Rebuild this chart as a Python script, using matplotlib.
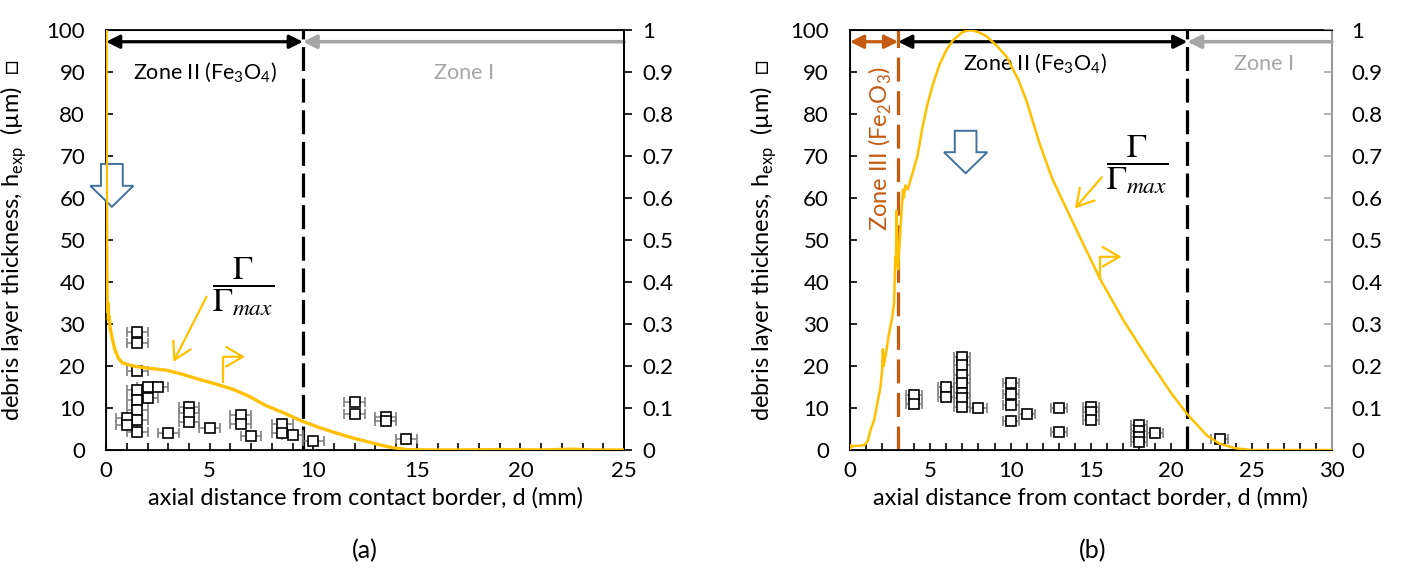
import matplotlib
matplotlib.use("Agg")
import matplotlib.pyplot as plt
from matplotlib.ticker import MultipleLocator, FuncFormatter
from matplotlib.patches import FancyArrow

plt.rcParams['font.family'] = ['Lato', 'DejaVu Sans']
plt.rcParams['mathtext.fontset'] = 'custom'
plt.rcParams['mathtext.rm'] = 'Lato'

# ---------------- data ----------------
# panel (a): normalized curve Gamma/Gamma_max
d_a = [0, 0.01, 0.03, 0.05, 0.07, 0.09, 0.11, 0.14, 0.2, 0.3, 0.43, 0.6, 0.8, 1.3,
       2.0, 2.9, 3.7, 4.5, 5.3, 6.1, 6.9, 7.7, 8.5, 9.4, 10.2, 11.0, 11.8, 12.6,
       13.3, 13.9, 14.5, 15.5, 17, 19, 21, 22.5, 23.5, 25]
g_a = [1.0, 0.75, 0.5, 0.36, 0.33, 0.35, 0.31, 0.32, 0.29, 0.265, 0.238, 0.218,
       0.207, 0.2, 0.195, 0.19, 0.18, 0.168, 0.157, 0.145, 0.128, 0.106, 0.09,
       0.07, 0.055, 0.042, 0.03, 0.02, 0.011, 0.005, 0.001, 0.0, 0.0, 0.001, 0.0,
       0.002, 0.0, 0.0]
# panel (a): measured debris thickness (um)
x_a = [1.5, 1.5, 1.5, 1.5, 1.5, 1.5, 1.5, 1.5, 1.0, 1.0, 2.0, 2.0, 2.5, 3.0, 4.0,
       4.0, 4.0, 5.0, 6.5, 6.5, 7.0, 8.5, 8.5, 9.0, 10.0, 12.0, 12.0, 13.5, 13.5, 14.5]
h_a = [28.2, 25.5, 18.8, 14.3, 11.9, 9.5, 7.1, 4.4, 7.5, 6.0, 15.1, 12.3, 15.1, 4.0,
       10.3, 8.7, 6.7, 5.2, 8.3, 6.3, 3.3, 6.3, 4.1, 3.6, 2.1, 11.5, 8.5, 7.8, 7.0, 2.5]

# panel (b): normalized curve
d_b = [0, 0.05, 0.15, 0.3, 0.6, 0.9, 1.1, 1.3, 1.5, 1.7, 1.9, 2.0, 2.05, 2.1, 2.2,
       2.4, 2.6, 2.75, 2.82, 2.86, 2.9, 2.95, 3.0, 3.1, 3.2, 3.3, 3.35, 3.45, 3.6,
       3.9, 4.2, 4.5, 4.8, 5.2, 5.6, 6.0, 6.4, 7.0, 7.5, 8.0, 8.5, 9.2, 9.75, 10.5,
       11.0, 11.8, 12.6, 13.9, 14.7, 15.6, 17.0, 18.5, 20.0, 21.0, 22.2, 23.0,
       24.0, 25.0, 27.0, 30.0]
g_b = [0.0, 0.012, 0.008, 0.01, 0.01, 0.012, 0.02, 0.05, 0.07, 0.11, 0.15, 0.19,
       0.24, 0.2, 0.22, 0.27, 0.31, 0.35, 0.46, 0.44, 0.57, 0.45, 0.43, 0.5, 0.56,
       0.62, 0.6, 0.63, 0.62, 0.66, 0.7, 0.765, 0.82, 0.875, 0.92, 0.952, 0.975,
       0.995, 1.0, 0.995, 0.985, 0.96, 0.936, 0.88, 0.83, 0.73, 0.645, 0.54, 0.476,
       0.405, 0.31, 0.22, 0.135, 0.085, 0.035, 0.015, 0.004, 0.0, 0.0, 0.0]
x_b = [4, 4, 6, 6, 7, 7, 7, 7, 7, 7, 7, 8, 10, 10, 10, 10, 11, 13, 13, 15, 15, 15,
       18, 18, 18, 18, 19, 23]
h_b = [13.0, 11.0, 15.1, 12.5, 22.2, 20.2, 17.9, 15.9, 13.5, 12.3, 10.3, 9.9, 15.9,
       13.3, 10.7, 6.9, 8.6, 10.1, 4.3, 10.3, 9.0, 7.1, 6.0, 4.6, 3.0, 1.8, 4.1, 2.5]
x_err = 0.5

yticks_left = [0, 10, 20, 30, 40, 50, 60, 70, 80, 90, 100]
yticks_right = [0, 0.1, 0.2, 0.3, 0.4, 0.5, 0.6, 0.7, 0.8, 0.9, 1.0]
zone_a = [9.5]          # Zone II / Zone I border (a)
zone_b = [3.0, 21.0]    # Zone III/II and II/I borders (b)

GOLD = '#ffc000'
ORANGE = '#c55a11'
GRAY = '#a6a6a6'
BLUE = '#41719c'
FS = 15

fig = plt.figure(figsize=(14.03, 5.81), dpi=100)
ax_a = fig.add_axes([0.0756, 0.2255, 0.3692, 0.7229])
ax_b = fig.add_axes([0.6058, 0.2255, 0.3436, 0.7229])

ylabel = 'debris layer thickness, h$_\\mathregular{exp}$  (µm)  □'
xlabel = 'axial distance from contact border, d (mm)'


def base(ax, xmax, right_color, right_dir, right_pad):
    ax.set_xlim(0, xmax)
    ax.set_ylim(0, 100)
    ax.set_yticks(yticks_left)
    ax.xaxis.set_major_locator(MultipleLocator(5))
    ax.xaxis.set_minor_locator(MultipleLocator(1))
    ax.tick_params(axis='x', which='both', direction='in', length=5, width=1.2,
                   labelsize=FS + 1, pad=8)
    ax.tick_params(axis='y', direction='in', length=5, width=1.2, labelsize=FS + 1, pad=15)
    for s in ax.spines.values():
        s.set_linewidth(1.3)
    ax.set_xlabel(xlabel, fontsize=17, labelpad=4)
    ax.set_ylabel(ylabel, fontsize=17)
    ax.yaxis.set_label_coords(-0.148, 0.5)
    tw = ax.twinx()
    tw.set_ylim(0, 1)
    tw.set_yticks(yticks_right)
    tw.yaxis.set_major_formatter(FuncFormatter(lambda v, p: '%g' % v))
    tw.tick_params(axis='y', direction=right_dir, length=6, width=1.2, labelsize=FS + 1,
                   pad=right_pad, colors=right_color, labelcolor='black')
    tw.spines['right'].set_color(right_color)
    tw.spines['right'].set_linewidth(1.3)
    return tw


tw_a = base(ax_a, 25, 'black', 'out', 7)
tw_b = base(ax_b, 30, GRAY, 'in', 14)

# scatter with error bars
for ax, xs, hs in ((ax_a, x_a, h_a), (ax_b, x_b, h_b)):
    ax.errorbar(xs, hs, xerr=x_err, fmt='s', mfc='white', mec='black', ms=7.6,
                mew=1.2, ecolor='#7f7f7f', elinewidth=1.1, capsize=3.5,
                capthick=1.1, zorder=3)

# curves
tw_a.plot(d_a, g_a, color=GOLD, lw=2.4, zorder=4)
tw_b.plot(d_b, g_b, color=GOLD, lw=1.8, zorder=4)

# zone borders
ax_a.axvline(zone_a[0], color='black', lw=2.3, dashes=(7.5, 2.4), zorder=2)
ax_b.axvline(zone_b[0], color=ORANGE, lw=2.3, dashes=(7.5, 3.0), zorder=2)
ax_b.axvline(zone_b[1], color='black', lw=2.3, dashes=(7.5, 2.4), zorder=2)

ya = 97.2
def arr(ax, x0, x1, color, style, lw):
    ax.annotate('', xy=(x1, ya), xytext=(x0, ya),
                arrowprops=dict(arrowstyle=style, color=color, lw=lw,
                                shrinkA=0, shrinkB=0, mutation_scale=20))

arr(ax_a, 0, zone_a[0], 'black', '<|-|>', 2.3)
arr(ax_a, 25, zone_a[0], GRAY, '-|>', 2.6)
arr(ax_b, 0, zone_b[0], ORANGE, '<|-|>', 2.3)
arr(ax_b, zone_b[0], zone_b[1], 'black', '<|-|>', 2.3)
arr(ax_b, 30, zone_b[1], GRAY, '-|>', 2.6)

zone2 = 'Zone II (Fe$_\\mathregular{3}$O$_\\mathregular{4}$)'
ax_a.text(4.78, 89.8, zone2, fontsize=FS + 0.5, ha='center', va='center')
ax_a.text(17.3, 89.8, 'Zone I', fontsize=FS + 0.5, ha='center', va='center', color=GRAY)
ax_b.text(11.5, 91.9, zone2, fontsize=FS + 0.5, ha='center', va='center')
ax_b.text(25.8, 91.9, 'Zone I', fontsize=FS + 0.5, ha='center', va='center', color=GRAY)
ax_b.text(1.9, 71.8, 'Zone III (Fe$_\\mathregular{2}$O$_\\mathregular{3}$)', fontsize=FS + 2,
          ha='center', va='center', rotation=90, color=ORANGE)

# hollow arrows
ax_a.add_patch(FancyArrow(0.28, 68.1, 0, -10.2, width=1.05, head_width=2.08,
                          head_length=5.0, length_includes_head=True, fc='white',
                          ec=BLUE, lw=1.4, zorder=5, clip_on=False))
ax_b.add_patch(FancyArrow(7.2, 76.0, 0, -10.1, width=1.35, head_width=2.7,
                          head_length=5.0, length_includes_head=True, fc='white',
                          ec=BLUE, lw=1.4, zorder=5, clip_on=False))

# Gamma / Gamma_max labels
frac = r'$\dfrac{\Gamma}{\Gamma_{max}}$'
ax_a.text(6.61, 39.0, frac, fontsize=24, ha='center', va='center', math_fontfamily='stix')
ax_b.text(17.86, 68.0, frac, fontsize=24, ha='center', va='center', math_fontfamily='stix')

def pointer(ax, x0, y0, x1, y1):
    ax.annotate('', xy=(x1, y1), xytext=(x0, y0),
                arrowprops=dict(arrowstyle='->,head_length=0.6,head_width=0.35',
                                color=GOLD, lw=1.6, shrinkA=0, shrinkB=0,
                                mutation_scale=20))

pointer(ax_a, 4.85, 36.5, 3.25, 21.0)
pointer(ax_b, 15.66, 64.9, 14.0, 57.5)

def flag(ax, x, y0, y1, x1):
    ax.plot([x, x], [y0, y1], color=GOLD, lw=1.6, solid_capstyle='butt')
    ax.annotate('', xy=(x1, y1), xytext=(x, y1),
                arrowprops=dict(arrowstyle='->,head_length=0.6,head_width=0.35',
                                color=GOLD, lw=1.6, shrinkA=0, shrinkB=0,
                                mutation_scale=20))

flag(ax_a, 5.66, 15.9, 22.2, 6.71)
flag(ax_b, 15.56, 40.5, 46.0, 16.9)

fig.text(0.2602, 0.053, '(a)', fontsize=18, ha='center', va='center')
fig.text(0.7790, 0.053, '(b)', fontsize=18, ha='center', va='center')

fig.savefig('out.png', dpi=100)
